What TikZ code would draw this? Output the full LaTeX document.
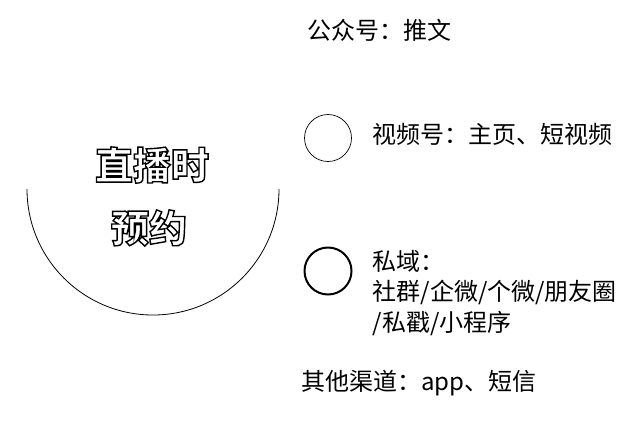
\documentclass[tikz,border=0pt]{standalone}
\usepackage{fontspec}
\newfontfamily\cjk{Noto Sans CJK SC}
\usetikzlibrary{positioning}
\newcommand\hollow[1]{\special{pdf:literal direct 0 G 1.4 w 2 Tr}#1\special{pdf:literal direct 0 Tr}}
\tikzset{
	ring/.style={circle, draw, minimum size=47pt, inner sep=0pt},
	channel/.style={anchor=west, inner sep=0pt, align=left,
		font=\cjk\fontsize{24}{30.5}\selectfont},
	bigword/.style={inner sep=0pt, text=white, font=\cjk\bfseries\fontsize{38}{38}\selectfont},
}

\begin{document}
\begin{tikzpicture}[x=1pt, y=-1pt]
	\useasboundingbox (0,0) rectangle (628,424);
	% Big circle (only its lower half shows)
	\coordinate (live) at (153,189);
	\draw[line width=0.8pt] (live) ++(126,0) arc[start angle=0, end angle=180, radius=126];
	% Hollow words
	\node[bigword] (zbs) at (152,165) {\hollow{直播时}};
	\node[bigword] (yy) at (149,228) {\hollow{预约}};
	% Channels
	\node[channel] (gzh) at (307,30) {公众号：推文};
	\node[ring, line width=0.7pt] (sph) at (328,138) {};
	\node[channel, right=20pt of sph, yshift=4pt] (sphtext) {视频号：主页、短视频};
	\node[ring, line width=2pt] (sy) at (328,271) {};
	\node[channel, right=20pt of sy, yshift=-22pt] (sytext) {私域：\\社群/企微/个微/朋友圈\\/私戳/小程序};
	\node[channel] (qt) at (301,383) {其他渠道：app、短信};
\end{tikzpicture}
\end{document}
